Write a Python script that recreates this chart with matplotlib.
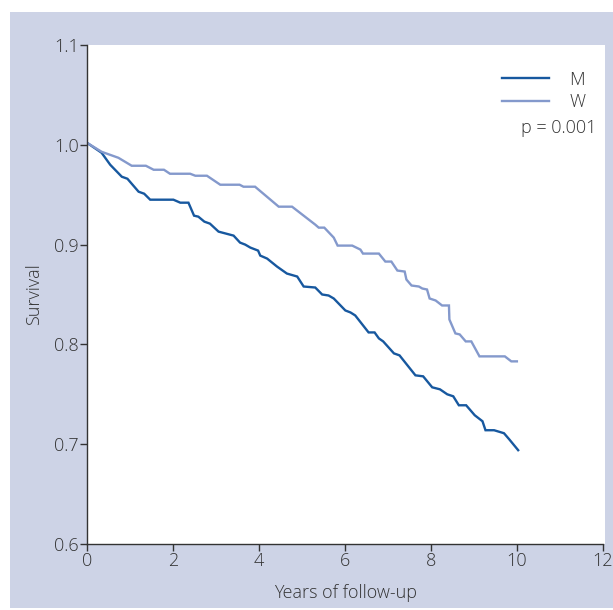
import matplotlib
matplotlib.use("Agg")
import matplotlib.pyplot as plt
from matplotlib.patches import Rectangle

# Kaplan-Meier style survival by sex
years_m = [0.0, 0.34, 0.54, 0.81, 0.94, 1.20, 1.33, 1.47, 2.01, 2.17, 2.36, 2.49, 2.59,
           2.73, 2.86, 3.06, 3.41, 3.56, 3.68, 3.80, 3.98, 4.03, 4.19, 4.42, 4.65, 4.89,
           5.04, 5.31, 5.47, 5.62, 5.74, 6.01, 6.13, 6.24, 6.55, 6.69, 6.79, 6.89, 7.14,
           7.27, 7.64, 7.82, 8.03, 8.21, 8.38, 8.52, 8.65, 8.82, 9.02, 9.20, 9.27, 9.47,
           9.70, 9.82, 10.03]
surv_m = [1.002, 0.992, 0.980, 0.968, 0.966, 0.953, 0.951, 0.945, 0.945, 0.942, 0.942,
          0.929, 0.928, 0.923, 0.921, 0.913, 0.909, 0.902, 0.900, 0.897, 0.894, 0.889,
          0.886, 0.878, 0.871, 0.868, 0.858, 0.857, 0.850, 0.849, 0.846, 0.834, 0.832,
          0.829, 0.812, 0.812, 0.806, 0.803, 0.791, 0.789, 0.769, 0.768, 0.757, 0.755,
          0.750, 0.748, 0.739, 0.739, 0.729, 0.723, 0.714, 0.714, 0.711, 0.705, 0.694]

years_w = [0.0, 0.34, 0.73, 1.04, 1.37, 1.55, 1.79, 1.93, 2.40, 2.52, 2.79, 3.10, 3.55,
           3.64, 3.91, 4.46, 4.77, 5.31, 5.39, 5.52, 5.74, 5.83, 6.17, 6.36, 6.42, 6.79,
           6.94, 7.08, 7.22, 7.39, 7.43, 7.55, 7.72, 7.80, 7.91, 7.97, 8.11, 8.26, 8.42,
           8.43, 8.57, 8.67, 8.81, 8.94, 9.13, 9.72, 9.87, 10.00]
surv_w = [1.002, 0.993, 0.987, 0.979, 0.979, 0.975, 0.975, 0.971, 0.971, 0.969, 0.969,
          0.960, 0.960, 0.958, 0.958, 0.938, 0.938, 0.920, 0.917, 0.917, 0.907, 0.899,
          0.899, 0.895, 0.891, 0.891, 0.883, 0.883, 0.874, 0.873, 0.865, 0.859, 0.858,
          0.856, 0.855, 0.846, 0.844, 0.839, 0.839, 0.825, 0.811, 0.810, 0.803, 0.803,
          0.788, 0.788, 0.783, 0.783]

x_ticks = [0, 2, 4, 6, 8, 10, 12]
y_ticks = [0.6, 0.7, 0.8, 0.9, 1.0, 1.1]
p_label = "p = 0.001"

panel = "#cdd3e6"
dark = "#333333"
col_m = "#17589f"
col_w = "#8499cc"

plt.rcParams["font.family"] = ["Open Sans", "DejaVu Sans"]
plt.rcParams["font.weight"] = "light"
fs = 13

fig = plt.figure(figsize=(6.13, 6.10), dpi=100, facecolor="white")
fig.patches.append(Rectangle((10 / 613, 0.003), 1 - 10 / 613, 1 - 12 / 610 - 0.003,
                             transform=fig.transFigure, facecolor=panel,
                             edgecolor="none", zorder=-10))

ax = fig.add_axes([87 / 613, 66 / 610, 518 / 613, 499 / 610])
ax.set_zorder(1)
ax.set_facecolor("white")

ax.plot(years_m, surv_m, color=col_m, lw=1.7, label="M", solid_joinstyle="miter")
ax.plot(years_w, surv_w, color=col_w, lw=1.7, label="W", solid_joinstyle="miter")

ax.set_xlim(0, 12.05)
ax.set_ylim(0.6, 1.1)
ax.set_xticks(x_ticks)
ax.set_yticks(y_ticks)
ax.set_xticklabels([str(t) for t in x_ticks])
ax.set_yticklabels([f"{t:.1f}" for t in y_ticks])

for s in ["top", "right"]:
    ax.spines[s].set_visible(False)
for s in ["left", "bottom"]:
    ax.spines[s].set_color(dark)
    ax.spines[s].set_linewidth(1.0)
ax.spines["bottom"].set_bounds(0, 12)

ax.tick_params(direction="out", length=5, width=1.0, color=dark,
               labelcolor=dark, labelsize=fs, pad=1)

ax.set_xlabel("Years of follow-up", fontsize=fs, color=dark, labelpad=10,
              fontweight="light")
ax.set_ylabel("Survival", fontsize=fs, color=dark, labelpad=8,
              fontweight="light")

leg = ax.legend(loc="upper right", bbox_to_anchor=(0.993, 0.981), frameon=False,
                fontsize=fs, handlelength=2.6, handletextpad=1.1,
                labelspacing=0.25, labelcolor=dark)
ax.text(0.983, 0.834, p_label, transform=ax.transAxes, ha="right", va="center",
        fontsize=fs, color=dark)

fig.savefig("out.png", dpi=100, facecolor=fig.get_facecolor())
